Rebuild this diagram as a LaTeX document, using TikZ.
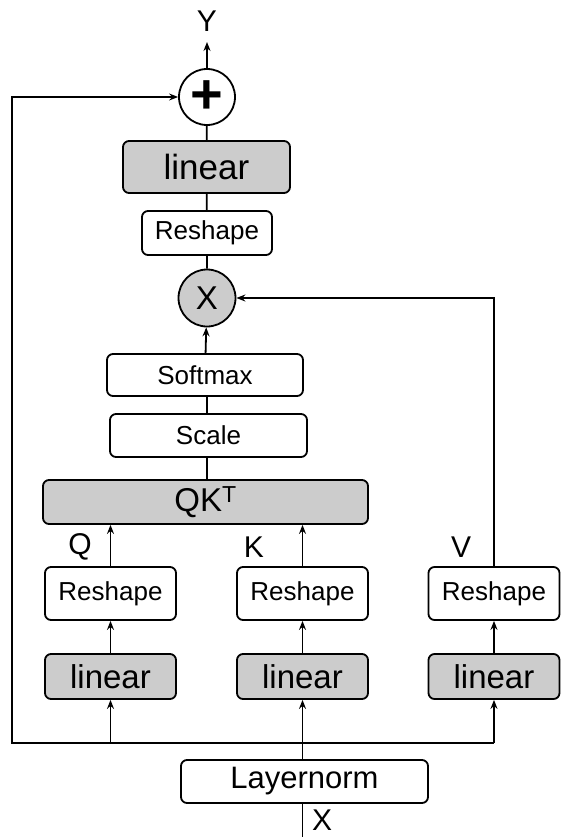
\documentclass[tikz,border=0pt]{standalone}
\usepackage{fontspec}
\setmainfont{Liberation Sans}
\usetikzlibrary{arrows.meta}

\begin{document}
\begin{tikzpicture}[x=1pt,y=-1pt,line width=1.8pt,
		box/.style={draw,rounded corners=6pt,fill=white,inner sep=0pt,font=\fontsize{26}{26}\selectfont},
		lin/.style={box,fill=gray!40,font=\fontsize{33}{33}\selectfont},
		op/.style={draw,circle,minimum size=56,inner sep=0pt},
		lbl/.style={font=\fontsize{30}{30}\selectfont},
		>={Stealth[length=9pt,width=7pt,inset=3pt]}]
		\useasboundingbox (0,0) rectangle (561,837);
		% output side
		\node[lbl] (y) at (207,21) {Y};
		\coordinate (out) at (207,42);
		\node[op,fill=white] (plus) at (207,97) {\fontsize{56}{56}\selectfont\bfseries +};
		\node[lin,minimum width=167,minimum height=52,font=\fontsize{35}{35}\selectfont] (lintop) at (206.5,167) {linear};
		\node[box,minimum width=130,minimum height=44] (reshtop) at (207,233) {Reshape};
		\node[op,fill=gray!40,minimum size=57] (mult) at (207,298) {\fontsize{33}{33}\selectfont X};
		% attention
		\node[box,minimum width=196,minimum height=42] (softmax) at (205,375) {Softmax};
		\node[box,minimum width=197,minimum height=43] (scale) at (208.5,435.5) {Scale};
		\node[lin,minimum width=325,minimum height=44] (qk) at (205.5,502) {QK\textsuperscript{T}};
		% q, k, v branches
		\foreach \n/\x in {q/110.5,k/302.5,v/494}{
			\node[box,minimum width=131,minimum height=53] (resh\n) at (\x,593.5) {Reshape};
			\node[lin,minimum width=131,minimum height=45] (lin\n) at (\x,676.5) {linear};
			\draw[->] (lin\n) -- (resh\n);
		}
		\node[lbl] (qlab) at (80,547) {Q};
		\node[lbl] (klab) at (254,547) {K};
		\node[lbl] (vlab) at (461,547) {V};
		% input side
		\node[box,minimum width=247,minimum height=43,font=\fontsize{31}{31}\selectfont] (norm) at (304.5,781.5) {Layernorm};
		\coordinate (in) at (302.5,837);
		\node[lbl,inner sep=0pt] (xin) at (322,820) {X};
		\coordinate (bus) at (12,743);

		\draw (in) -- (in |- norm.south);
		\draw[->] (link |- norm.north) -- (link);
		\draw[->] (linv |- bus) -- (bus) |- (plus);
		\draw[->] (linq |- bus) -- (linq);
		\draw[->] (linv |- bus) -- (linv);
		\draw[->] (reshq) -- (reshq |- qk.south);
		\draw[->] (reshk) -- (reshk |- qk.south);
		\draw[->] (reshv) |- (mult);
		\draw (mult |- qk.north) -- (mult |- scale.south);
		\draw (mult |- scale.north) -- (mult |- softmax.south);
		\draw[->] (softmax) -- (mult);
		\draw (mult) -- (reshtop) -- (lintop) -- (plus);
		\draw[->] (plus) -- (out);
	\end{tikzpicture}
\end{document}
